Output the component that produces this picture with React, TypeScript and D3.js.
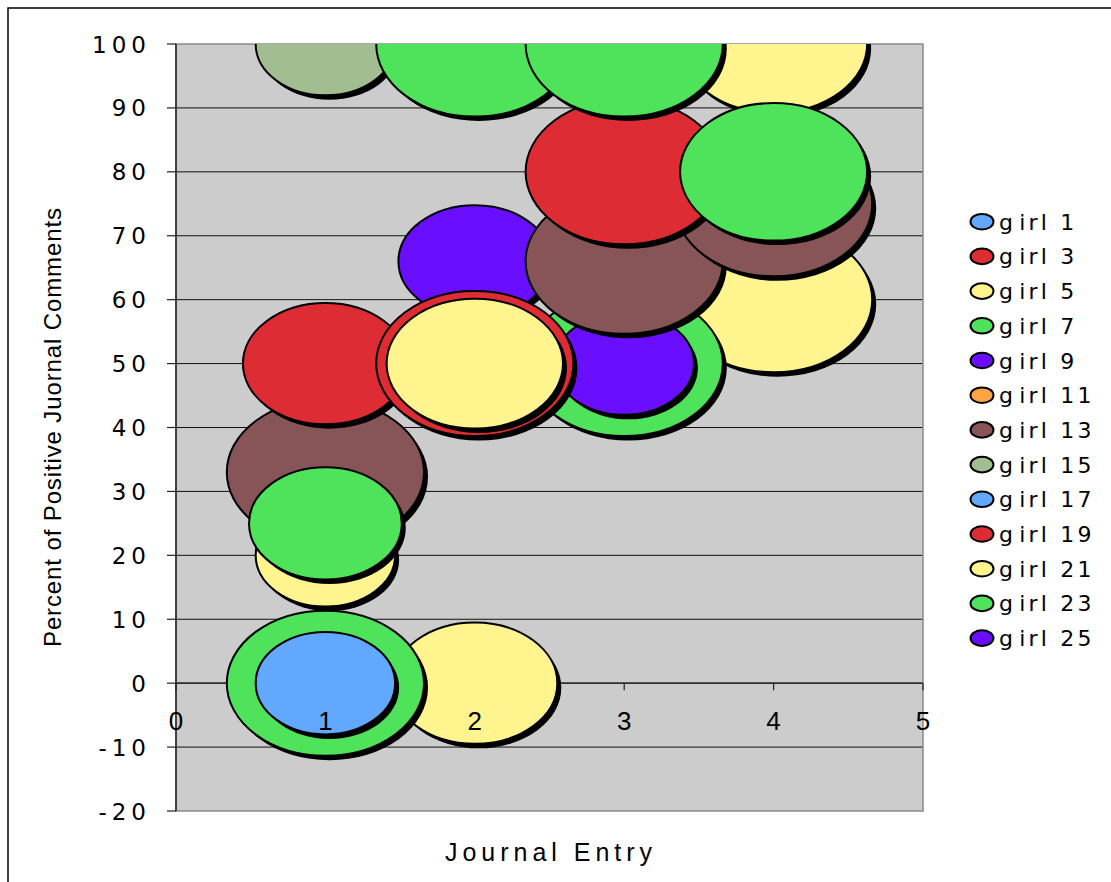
import React from "react";
import * as d3 from "d3";

// Series (one per girl) and their bubble colours
const SERIES = [
  "girl 1", "girl 3", "girl 5", "girl 7", "girl 9", "girl 11", "girl 13",
  "girl 15", "girl 17", "girl 19", "girl 21", "girl 23", "girl 25",
];
const SERIES_COLORS = [
  "#62A8FF", "#DD2C33", "#FFF48E", "#4FE35B", "#6A0EFF", "#FFA444", "#875557",
  "#A2BE90", "#62A8FF", "#DD2C33", "#FFF48E", "#4FE35B", "#6A0EFF",
];

// Bubble points: which girl, journal entry, percent positive, bubble size
const pointGirl = [
  "girl 5", "girl 5", "girl 5",
  "girl 7", "girl 7",
  "girl 9", "girl 9",
  "girl 13", "girl 13", "girl 13",
  "girl 15",
  "girl 17",
  "girl 19", "girl 19", "girl 19",
  "girl 21", "girl 21",
  "girl 23", "girl 23", "girl 23", "girl 23",
];
const pointEntry = [1, 2, 4, 1, 3, 2, 3, 1, 3, 4, 1, 1, 1, 2, 3, 2, 4, 1, 2, 3, 4];
const pointPercent = [20, 0, 60, 0, 50, 66, 50, 33, 66, 75, 100, 0, 50, 50, 80, 50, 100, 25, 100, 100, 80];
const pointSize = [5, 7, 10, 10, 10, 6, 5, 10, 10, 10, 5, 5, 7, 10, 10, 8, 9, 6, 10, 10, 9];

// Axis ticks
const X_TICKS = [0, 1, 2, 3, 4, 5];
const Y_TICKS = [-20, -10, 0, 10, 20, 30, 40, 50, 60, 70, 80, 90, 100];

const W = 1111;
const H = 882;
const PLOT = { left: 176, right: 923, top: 44, bottom: 811 };

export default function App() {
  const x = d3.scaleLinear().domain([0, 5]).range([PLOT.left, PLOT.right]);
  const y = d3.scaleLinear().domain([-20, 100]).range([PLOT.bottom, PLOT.top]);
  const r = d3.scaleSqrt().domain([0, 10]).range([0, 72.5]);
  const aspect = 1.36; // bubbles are drawn wider than tall

  const points = pointGirl
    .map((g, i) => ({
      series: SERIES.indexOf(g),
      entry: pointEntry[i],
      pct: pointPercent[i],
      size: pointSize[i],
      order: i,
    }))
    .sort((a, b) => a.series - b.series || a.order - b.order);

  const legendY0 = 221.7;
  const legendStep = 34.7;

  return (
    <svg
      width={W}
      height={H}
      style={{ position: "absolute", left: 0, top: 0, display: "block" }}
    >
      <rect x={0} y={0} width={W} height={H} fill="#ffffff" />
      {/* outer chart frame */}
      <rect x={8} y={8} width={W + 20} height={H + 20} fill="none" stroke="#000" strokeWidth={1.5} />

      <defs>
        <clipPath id="plotClip">
          <rect x={PLOT.left} y={PLOT.top} width={PLOT.right - PLOT.left} height={PLOT.bottom - PLOT.top} />
        </clipPath>
      </defs>

      {/* plot background */}
      <rect
        x={PLOT.left}
        y={PLOT.top}
        width={PLOT.right - PLOT.left}
        height={PLOT.bottom - PLOT.top}
        fill="#CCCCCC"
      />

      {/* horizontal gridlines */}
      {Y_TICKS.filter((t) => t > -20 && t < 100).map((t) => (
        <line key={"g" + t} x1={PLOT.left} x2={PLOT.right} y1={y(t)} y2={y(t)} stroke="#111" strokeWidth={1} />
      ))}

      {/* plot border */}
      <rect
        x={PLOT.left}
        y={PLOT.top}
        width={PLOT.right - PLOT.left}
        height={PLOT.bottom - PLOT.top}
        fill="none"
        stroke="#8a8a8a"
        strokeWidth={1.5}
      />

      {/* y axis line and ticks */}
      <line x1={PLOT.left} x2={PLOT.left} y1={PLOT.top} y2={PLOT.bottom} stroke="#222" strokeWidth={1.5} />
      {Y_TICKS.map((t) => (
        <line key={"yt" + t} x1={PLOT.left - 9} x2={PLOT.left} y1={y(t)} y2={y(t)} stroke="#222" strokeWidth={1.2} />
      ))}

      {/* x axis at zero with ticks */}
      <line x1={PLOT.left} x2={PLOT.right} y1={y(0)} y2={y(0)} stroke="#222" strokeWidth={1.2} />
      {X_TICKS.map((t) => (
        <line key={"xt" + t} x1={x(t)} x2={x(t)} y1={y(0)} y2={y(0) + 7} stroke="#222" strokeWidth={1.2} />
      ))}

      {/* bubbles */}
      <g clipPath="url(#plotClip)">
        {points.map((p, i) => {
          const ry = r(p.size);
          const rx = ry * aspect;
          const cx = x(p.entry);
          const cy = y(p.pct);
          return (
            <g key={"b" + i}>
              <ellipse cx={cx + 4} cy={cy + 4.5} rx={rx} ry={ry} fill="#000" />
              <ellipse
                cx={cx}
                cy={cy}
                rx={rx}
                ry={ry}
                fill={SERIES_COLORS[p.series]}
                stroke="#000"
                strokeWidth={2}
              />
            </g>
          );
        })}
      </g>

      {/* y tick labels */}
      {Y_TICKS.map((t) => (
        <text
          key={"yl" + t}
          x={151}
          y={y(t) + 8.5}
          textAnchor="end"
          fontFamily="'DejaVu Sans', Verdana, sans-serif"
          fontSize={23}
          letterSpacing={5}
          fill="#000"
        >
          {t}
        </text>
      ))}

      {/* x tick labels */}
      {X_TICKS.map((t) => (
        <text
          key={"xl" + t}
          x={x(t)}
          y={730}
          textAnchor="middle"
          fontFamily='"Liberation Sans Narrow", "Liberation Sans", sans-serif'
          fontSize={26}
          fill="#000"
        >
          {t}
        </text>
      ))}

      {/* axis titles */}
      <text
        x={445}
        y={861}
        fontFamily='"Liberation Sans Narrow", "Liberation Sans", sans-serif'
        fontSize={25}
        textLength={207}
        lengthAdjust="spacing"
        fill="#000"
      >
        Journal Entry
      </text>
      <text
        transform="translate(61,427.5) rotate(-90)"
        textAnchor="middle"
        fontFamily='"Liberation Sans", Arial, sans-serif'
        fontSize={24}
        textLength={439}
        lengthAdjust="spacing"
        fill="#000"
      >
        Percent of Positive Juornal Comments
      </text>

      {/* legend */}
      {SERIES.map((name, i) => {
        const cy = legendY0 + i * legendStep;
        return (
          <g key={"lg" + name}>
            <ellipse cx={982} cy={cy} rx={11.5} ry={7.8} fill={SERIES_COLORS[i]} stroke="#000" strokeWidth={2} />
            <text
              x={999}
              y={cy + 8}
              fontFamily="'DejaVu Sans', Verdana, sans-serif"
              fontSize={22}
              letterSpacing={3.2}
              fill="#000"
            >
              <tspan>{name.slice(0, 1)}</tspan>
              <tspan dx={3}>{name.slice(1)}</tspan>
            </text>
          </g>
        );
      })}
    </svg>
  );
}
